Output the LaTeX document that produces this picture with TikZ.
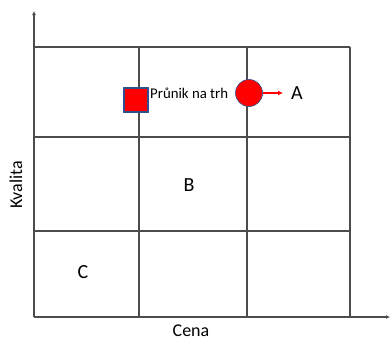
\documentclass[tikz,border=0pt]{standalone}
\usepackage{fontspec}
\setmainfont{Carlito}
\usetikzlibrary{arrows.meta}
\begin{document}
\begin{tikzpicture}[x=1pt,y=-1pt,
  gridline/.style={draw=black!70,line width=1.3pt},
  axisline/.style={draw=black!70,line width=1.3pt,-{Latex[length=4pt,width=4pt]}},
  lbl/.style={inner sep=0pt,font=\fontsize{20}{24}\selectfont},
  small/.style={inner sep=0pt,font=\fontsize{14.8}{17}\selectfont}]
\useasboundingbox (0,0) rectangle (390,340);
% grid
\draw[gridline] (34,47) -- (350,47);
\draw[gridline] (34,137) -- (350,137);
\draw[gridline] (34,231) -- (350,231);
\draw[gridline] (139,47) -- (139,317);
\draw[gridline] (247,47) -- (247,317);
\draw[gridline] (350,47) -- (350,317);
% axes
\coordinate (o) at (34,317);
\coordinate (ytop) at (34,11);
\coordinate (xend) at (390,317);
\draw[axisline] (o) -- (ytop);
\draw[axisline] (o) -- (xend);
% markers
\node[draw={rgb,255:red,47;green,82;blue,143},line width=1.2pt,fill=red,minimum size=24pt,inner sep=0pt] (sq) at (136,100) {};
\node[small,anchor=west] (pr) at (150,93) {Průnik na trh};
\node[draw={rgb,255:red,47;green,82;blue,143},line width=0.6pt,fill=red,circle,minimum size=27pt,inner sep=0pt] (ci) at (249,93) {};
\node[lbl] (A) at (297,93) {A};
\draw[red,line width=1.3pt,-{Latex[length=5pt,width=5pt]}] (ci.east) -- ([xshift=-8pt]A.west);
\node[lbl] (B) at (189,185) {B};
\node[lbl] (C) at (83,272) {C};
\node[inner sep=0pt,font=\fontsize{18}{22}\selectfont] (cena) at (191,331) {Cena};
\node[inner sep=0pt,font=\fontsize{18}{22}\selectfont,rotate=90] (kv) at (16,185) {Kvalita};
\end{tikzpicture}
\end{document}
